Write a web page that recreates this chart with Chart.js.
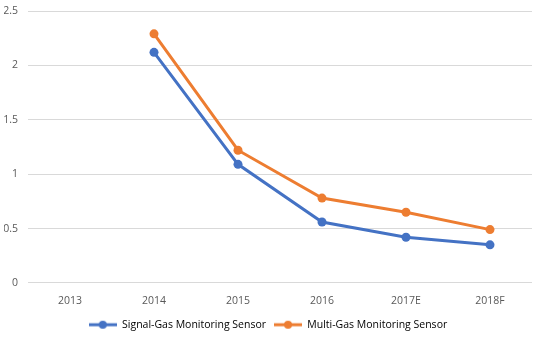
<!DOCTYPE html>
<html><head><meta charset="utf-8">
<script src="https://cdn.jsdelivr.net/npm/chart.js@4.4.1/dist/chart.umd.min.js"></script>
<style>html,body{margin:0;padding:0;background:#fff}#w{width:544px;height:340px}</style>
</head><body><div id="w"><canvas id="c" width="544" height="340"></canvas></div>
<script>
const categories = ["2013","2014","2015","2016","2017E","2018F"];
const signalGas = [null, 2.12, 1.09, 0.56, 0.42, 0.35];
const multiGas = [null, 2.29, 1.22, 0.78, 0.65, 0.49];
const seriesNames = ["Signal-Gas Monitoring Sensor","Multi-Gas Monitoring Sensor"];
const yTicks = [0, 0.5, 1, 1.5, 2, 2.5];
const BLUE = "#4472C4", ORANGE = "#ED7D31";
function icon(color){
  const c = document.createElement('canvas'); c.width = 28; c.height = 10;
  const x = c.getContext('2d');
  x.strokeStyle = color; x.lineWidth = 3; x.beginPath(); x.moveTo(0,5); x.lineTo(28,5); x.stroke();
  x.fillStyle = color; x.beginPath(); x.arc(14,5,4,0,Math.PI*2); x.fill();
  return c;
}
const icons = [icon(BLUE), icon(ORANGE)];
Chart.defaults.font.family = "'Open Sans', 'Liberation Sans', sans-serif";
Chart.defaults.font.size = 10;
Chart.defaults.color = "#595959";
new Chart(document.getElementById('c'), {
  type: 'line',
  data: { labels: categories, datasets: [
    { label: seriesNames[0], data: signalGas, borderColor: BLUE, backgroundColor: BLUE, borderWidth: 3, pointRadius: 4.5, pointBorderWidth: 0, pointHoverRadius: 4.5, pointBackgroundColor: BLUE, tension: 0 },
    { label: seriesNames[1], data: multiGas, borderColor: ORANGE, backgroundColor: ORANGE, borderWidth: 3, pointRadius: 4.5, pointBorderWidth: 0, pointHoverRadius: 4.5, pointBackgroundColor: ORANGE, tension: 0 }
  ]},
  options: {
    responsive: false, animation: false,
    layout: { padding: { left: 4, right: 12, top: 11, bottom: 0 } },
    scales: {
      x: { offset: true, grid: { display: false }, border: { display: false }, ticks: { padding: 4, font: { size: 10.5 } } },
      y: { min: 0, max: 2.5, afterBuildTicks: s => { s.ticks = yTicks.map(v => ({ value: v })); },
           afterFit: s => { s.width = 24; s.paddingTop = 0; s.paddingBottom = 0; },
           grid: { color: "#d9d9d9", drawTicks: false }, border: { display: false },
           ticks: { padding: 10, font: { size: 10.5 }, callback: v => String(v) } }
    },
    plugins: {
      legend: { position: 'bottom', labels: { usePointStyle: true, pointStyleWidth: 28, padding: 8, font: { size: 10.5 }, color: "#595959",
        generateLabels: ch => ch.data.datasets.map((d, i) => ({ text: d.label, pointStyle: icons[i], fillStyle: d.borderColor, strokeStyle: d.borderColor, lineWidth: 0, datasetIndex: i, hidden: false })) } },
      tooltip: { enabled: false }
    }
  }
});
</script></body></html>
